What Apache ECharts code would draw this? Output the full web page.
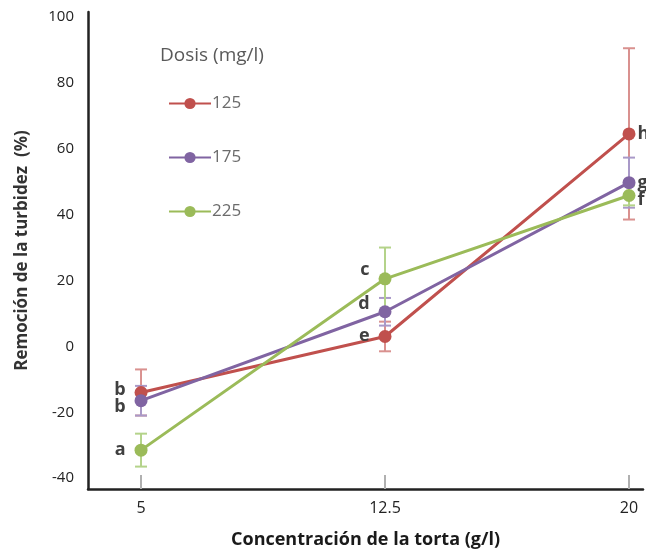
<!DOCTYPE html>
<html>
<head>
<meta charset="utf-8">
<script src="https://cdn.jsdelivr.net/npm/echarts@6/dist/echarts.min.js"></script>
<style>html,body{margin:0;padding:0;background:#fff}#c{width:646px;height:554px}</style>
</head>
<body>
<div id="c"></div>
<script>
// ---- data ----
const xValues = [5, 12.5, 20];
const yTicks = [-40, -20, 0, 20, 40, 60, 80, 100];
const doses = ['125', '175', '225'];
const values125 = [-14, 3, 64.5];
const errors125 = [7, 4.5, 26];
const values175 = [-16.5, 10.5, 49.7];
const errors175 = [4.5, 4.2, 7.6];
const values225 = [-31.5, 20.5, 45.8];
const errors225 = [5, 9.5, 3];
const letters125 = ['b', 'e', 'h'];
const letters175 = ['b', 'd', 'g'];
const letters225 = ['a', 'c', 'f'];

// ---- styles ----
const colors = ['#c0504d', '#8064a2', '#9bbb59'];
const errColors = ['#d9918f', '#a999c8', '#b4d38a'];
const labelOffsets = [
  [[0, -3], [0, -1], [0, 0]],
  [[0, 6], [0, -8], [0, 0]],
  [[0, 0], [0, -9], [0, 4]]
];
const FONT = 'Open Sans';

const allValues = [values125, values175, values225];
const allErrors = [errors125, errors175, errors225];
const allLetters = [letters125, letters175, letters225];

const chart = echarts.init(document.getElementById('c'));

const series = [];
allValues.forEach((vals, si) => {
  series.push({
    type: 'custom',
    name: doses[si] + '_err',
    z: 1,
    silent: true,
    data: vals.map((v, i) => [xValues[i], v, allErrors[si][i]]),
    renderItem: function (params, api) {
      const x = api.value(0), y = api.value(1), e = api.value(2);
      const top = api.coord([x, y + e]);
      const bot = api.coord([x, y - e]);
      const w = 6;
      const st = { stroke: errColors[si], lineWidth: 2 };
      return {
        type: 'group',
        children: [
          { type: 'line', shape: { x1: top[0], y1: top[1], x2: bot[0], y2: bot[1] }, style: st },
          { type: 'line', shape: { x1: top[0] - w, y1: top[1], x2: top[0] + w, y2: top[1] }, style: st },
          { type: 'line', shape: { x1: bot[0] - w, y1: bot[1], x2: bot[0] + w, y2: bot[1] }, style: st }
        ]
      };
    }
  });
});
allValues.forEach((vals, si) => {
  series.push({
    type: 'line',
    name: doses[si],
    z: 3,
    color: colors[si],
    symbol: 'circle',
    symbolSize: 13,
    lineStyle: { width: 3, color: colors[si] },
    itemStyle: { color: colors[si] },
    data: vals.map((v, i) => ({
      value: [xValues[i], v],
      label: {
        show: true,
        formatter: allLetters[si][i],
        position: i === 2 ? 'right' : 'left',
        distance: i === 2 ? 2 : 9,
        offset: labelOffsets[si][i],
        fontFamily: FONT,
        fontWeight: 'bold',
        fontSize: 18,
        color: '#404040'
      }
    }))
  });
});

chart.setOption({
  animation: false,
  title: {
    text: 'Dosis (mg/l)',
    left: 155,
    top: 41,
    textStyle: { fontFamily: FONT, fontSize: 19, fontWeight: 'normal', color: '#595959' }
  },
  legend: {
    data: doses,
    orient: 'vertical',
    left: 163,
    top: 90,
    itemWidth: 42,
    itemHeight: 14,
    itemGap: 37,
    textStyle: { fontFamily: FONT, fontSize: 17, color: '#6b6b6b', padding: [0, 0, 0, -4] }
  },
  grid: { left: 88, right: 3, top: 12, bottom: 64, containLabel: false },
  xAxis: {
    type: 'value',
    min: 3.37,
    max: 20.43,
    name: 'Concentración de la torta (g/l)',
    nameLocation: 'middle',
    nameGap: 42,
    nameTextStyle: { fontFamily: FONT, fontSize: 18, fontWeight: 'bold', color: '#1a1a1a' },
    splitLine: { show: false },
    axisLine: { show: true, onZero: false, lineStyle: { color: '#222', width: 2.5 } },
    axisTick: { show: true, inside: true, length: 14, customValues: xValues, lineStyle: { color: '#b0b0b0', width: 2 } },
    axisLabel: { customValues: xValues, margin: 11, fontFamily: FONT, fontSize: 16, color: '#222', showMaxLabel: true }
  },
  yAxis: {
    type: 'value',
    min: -43.3,
    max: 101.5,
    name: 'Remoción de la turbidez  (%)',
    nameLocation: 'middle',
    nameGap: 57,
    nameRotate: 90,
    nameTextStyle: { fontFamily: FONT, fontSize: 17, fontWeight: 'bold', color: '#333' },
    splitLine: { show: false },
    axisLine: { show: true, onZero: false, lineStyle: { color: '#222', width: 2.5 } },
    axisTick: { show: false },
    axisLabel: { customValues: yTicks, margin: 14, fontFamily: FONT, fontSize: 15, color: '#222' }
  },
  series: series
});
</script>
</body>
</html>
